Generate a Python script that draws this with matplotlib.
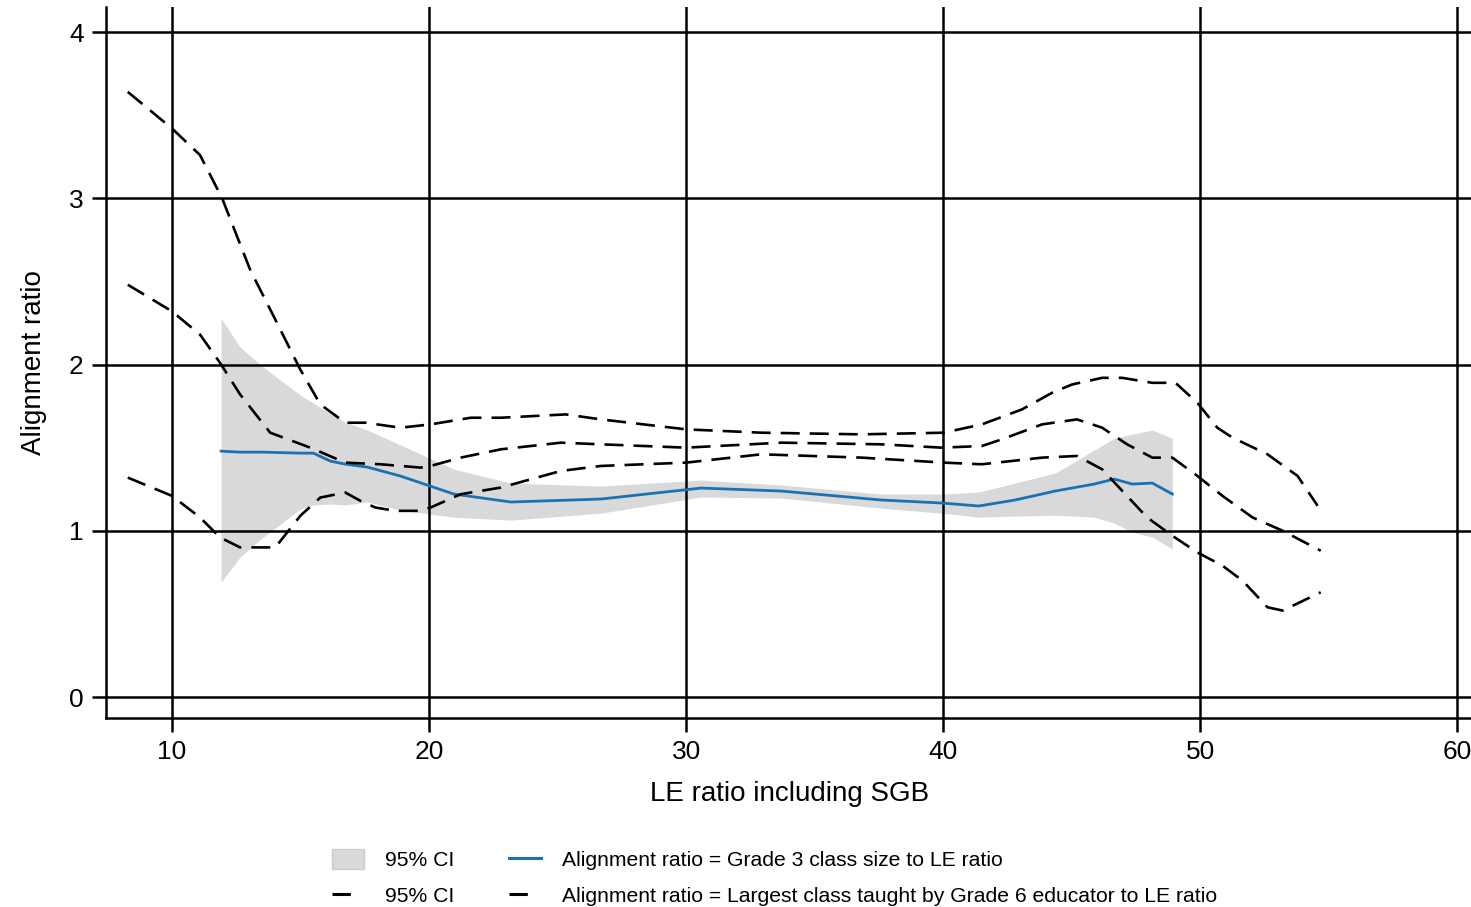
#!/usr/bin/env python3
"""Alignment ratio vs LE ratio including SGB, local-polynomial fits with 95% CI."""

import matplotlib

matplotlib.use("Agg")

import matplotlib.pyplot as plt
from matplotlib.lines import Line2D
from matplotlib.patches import Patch

# Grade 3 class size to LE ratio: fit and 95% CI band
g3_x = [11.91, 12.65, 13.55, 14.99, 15.50, 16.16, 16.74, 17.60, 18.89, 20.96, 23.18, 26.69,
        30.58, 33.70, 37.60, 39.94, 41.38, 42.79, 44.35, 45.87, 46.65, 47.35, 48.13, 48.91]
g3_fit = [1.479, 1.473, 1.473, 1.467, 1.467, 1.419, 1.401, 1.383, 1.329, 1.221, 1.173, 1.191,
          1.257, 1.239, 1.185, 1.167, 1.149, 1.185, 1.239, 1.281, 1.311, 1.281, 1.287, 1.221]
g3_hi = [2.279, 2.105, 1.984, 1.816, 1.768, 1.702, 1.654, 1.606, 1.516, 1.371, 1.287, 1.269,
         1.305, 1.275, 1.221, 1.221, 1.233, 1.287, 1.347, 1.485, 1.557, 1.581, 1.606, 1.557]
g3_lo = [0.692, 0.842, 0.962, 1.130, 1.155, 1.161, 1.155, 1.173, 1.124, 1.082, 1.064, 1.106,
         1.203, 1.197, 1.136, 1.106, 1.082, 1.088, 1.094, 1.082, 1.046, 0.992, 0.962, 0.890]

# Largest class taught by Grade 6 educator to LE ratio: fit and 95% CI lines
g6_hi_x = [8.28, 10.0, 11.09, 11.95, 13.04, 14.02, 14.99, 15.77, 16.74, 17.52, 18.89, 20.06,
           21.62, 22.79, 25.32, 26.69, 30.0, 32.92, 36.82, 40.02, 41.5, 43.06, 44.23, 45.01,
           46.18, 46.96, 48.13, 49.03, 49.88, 50.66, 51.25, 52.61, 53.78, 54.56]
g6_hi = [3.64, 3.42, 3.26, 3.00, 2.57, 2.27, 1.97, 1.76, 1.65, 1.65, 1.62, 1.64,
         1.68, 1.68, 1.70, 1.67, 1.61, 1.59, 1.58, 1.59, 1.64, 1.73, 1.83, 1.88,
         1.92, 1.92, 1.89, 1.89, 1.77, 1.62, 1.56, 1.46, 1.33, 1.15]

g6_fit_x = [8.28, 10.0, 11.09, 11.87, 12.65, 13.82, 15.38, 16.74, 18.11, 19.67, 20.06, 21.23,
            22.79, 25.13, 26.69, 30.0, 33.7, 37.6, 39.94, 41.5, 42.28, 43.84, 45.2, 46.18,
            47.15, 48.13, 48.91, 49.88, 50.86, 52.03, 53.2, 54.68]
g6_fit = [2.48, 2.32, 2.18, 2.01, 1.82, 1.59, 1.50, 1.41, 1.40, 1.38, 1.39, 1.44,
          1.49, 1.53, 1.52, 1.50, 1.53, 1.52, 1.50, 1.51, 1.55, 1.64, 1.67, 1.62,
          1.52, 1.44, 1.44, 1.33, 1.21, 1.08, 1.00, 0.88]

g6_lo_x = [8.28, 10.0, 11.09, 11.87, 12.65, 14.02, 14.99, 15.77, 16.74, 17.33, 17.91, 18.69,
           19.67, 20.06, 21.23, 22.79, 25.13, 26.69, 30.0, 32.92, 36.82, 40.02, 41.5, 43.84,
           45.2, 46.18, 46.96, 47.93, 48.91, 49.88, 50.86, 51.64, 52.61, 53.2, 54.68]
g6_lo = [1.32, 1.21, 1.08, 0.96, 0.90, 0.90, 1.09, 1.20, 1.23, 1.18, 1.14, 1.12,
         1.12, 1.14, 1.22, 1.26, 1.36, 1.39, 1.41, 1.46, 1.44, 1.41, 1.40, 1.44,
         1.45, 1.37, 1.24, 1.08, 0.97, 0.87, 0.79, 0.70, 0.54, 0.52, 0.63]

X_TICKS = [10, 20, 30, 40, 50, 60]
Y_TICKS = [0, 1, 2, 3, 4]
LABEL_CI = "95% CI"
LABEL_G3 = "Alignment ratio = Grade 3 class size to LE ratio"
LABEL_G6 = "Alignment ratio = Largest class taught by Grade 6 educator to LE ratio"

BLUE = "#1a72b2"
BAND = "#d9d9d9"
DASH = (0, (7.2, 3.8))


def main() -> None:
    plt.rcParams.update(
        {
            "font.family": ["Liberation Sans", "DejaVu Sans"],
            "font.size": 20,
        }
    )

    fig = plt.figure(figsize=(14.71, 9.07), dpi=100)
    ax = fig.add_axes([0.072, 0.2084, 0.93, 0.7836])

    ax.fill_between(g3_x, g3_lo, g3_hi, color=BAND, linewidth=0, zorder=1)
    ax.plot(g3_x, g3_fit, color=BLUE, linewidth=2.0, zorder=3)
    for xs, ys in [(g6_hi_x, g6_hi), (g6_fit_x, g6_fit), (g6_lo_x, g6_lo)]:
        ax.plot(xs, ys, color="black", linewidth=1.9, linestyle=DASH, zorder=3)

    ax.set_xlim(7.43, 60.64)
    ax.set_ylim(-0.126, 4.149)
    ax.set_xticks(X_TICKS)
    ax.set_yticks(Y_TICKS)
    ax.grid(True, color="black", linewidth=1.8)
    for side in ["top", "right"]:
        ax.spines[side].set_visible(False)
    for side in ["left", "bottom"]:
        ax.spines[side].set_linewidth(1.8)
    ax.tick_params(direction="out", length=10, width=1.8, pad=6, labelsize=19)

    ax.set_xlabel("LE ratio including SGB", fontsize=20, labelpad=12)
    ax.set_ylabel("Alignment ratio", fontsize=20, labelpad=16)

    handles = [
        Patch(facecolor=BAND, edgecolor="#cccccc"),
        Line2D([], [], color="black", linewidth=2.2, linestyle=(0, (6, 20))),
        Line2D([], [], color=BLUE, linewidth=2.2),
        Line2D([], [], color="black", linewidth=2.2, linestyle=(0, (6, 20))),
    ]
    labels = [LABEL_CI, LABEL_CI, LABEL_G3, LABEL_G6]
    fig.legend(
        handles,
        labels,
        ncol=2,
        loc="upper left",
        bbox_to_anchor=(0.226, 0.064),
        frameon=False,
        fontsize=15.2,
        handlelength=1.5,
        handleheight=1.1,
        handletextpad=1.0,
        columnspacing=2.6,
        labelspacing=0.7,
        borderpad=0,
        borderaxespad=0,
    )

    fig.savefig("out.png", dpi=100)
    plt.close(fig)


if __name__ == "__main__":
    main()
